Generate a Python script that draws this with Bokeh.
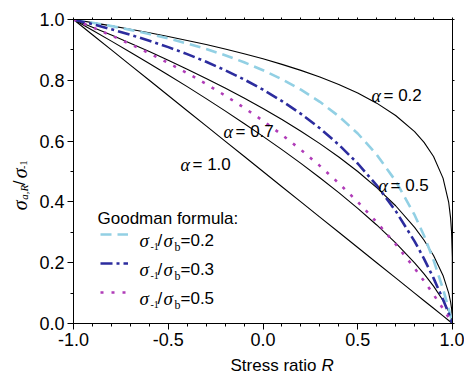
from math import pi
from bokeh.plotting import figure
from bokeh.layouts import row, column
from bokeh.models import (Range1d, FixedTicker, LinearAxis, Label, Legend,
                          LegendItem, NumeralTickFormatter, CustomJSTickFormatter)
from bokeh.embed import file_html
from bokeh.resources import INLINE

# ---------------- data ----------------
R = [-1.0, -0.9, -0.8, -0.7, -0.6, -0.5, -0.4, -0.3, -0.2, -0.1, 0.0, 0.1, 0.2,
     0.3, 0.4, 0.5, 0.6, 0.7, 0.8, 0.85, 0.9, 0.95, 0.98, 0.99, 0.995, 0.999, 1.0]

alpha_02 = [1.0, 0.9898, 0.9791, 0.9680, 0.9564, 0.9441, 0.9312, 0.9175, 0.9029,
            0.8873, 0.8706, 0.8524, 0.8326, 0.8106, 0.7860, 0.7579, 0.7248, 0.6843,
            0.6310, 0.5957, 0.5493, 0.4782, 0.3981, 0.3466, 0.3017, 0.2187, 0.0]
alpha_05 = [1.0, 0.9747, 0.9487, 0.9220, 0.8944, 0.8660, 0.8367, 0.8062, 0.7746,
            0.7416, 0.7071, 0.6708, 0.6325, 0.5916, 0.5477, 0.5000, 0.4472, 0.3873,
            0.3162, 0.2739, 0.2236, 0.1581, 0.1000, 0.0707, 0.0500, 0.0224, 0.0]
alpha_07 = [1.0, 0.9647, 0.9289, 0.8925, 0.8554, 0.8176, 0.7791, 0.7397, 0.6994,
            0.6580, 0.6156, 0.5718, 0.5266, 0.4796, 0.4305, 0.3789, 0.3241, 0.2650,
            0.1995, 0.1631, 0.1228, 0.0756, 0.0398, 0.0245, 0.0151, 0.0049, 0.0]
alpha_10 = [1.0, 0.95, 0.9, 0.85, 0.8, 0.75, 0.7, 0.65, 0.6, 0.55, 0.5, 0.45, 0.4,
            0.35, 0.3, 0.25, 0.2, 0.15, 0.1, 0.075, 0.05, 0.025, 0.01, 0.005,
            0.0025, 0.0005, 0.0]

goodman_02 = [1.0, 0.9896, 0.9783, 0.9659, 0.9524, 0.9375, 0.9211, 0.9028, 0.8824,
              0.8594, 0.8333, 0.8036, 0.7692, 0.7292, 0.6818, 0.6250, 0.5556, 0.4688,
              0.3571, 0.2885, 0.2083, 0.1136, 0.0481, 0.0245, 0.0124, 0.0025, 0.0]
goodman_03 = [1.0, 0.9845, 0.9677, 0.9497, 0.9302, 0.9091, 0.8861, 0.8609, 0.8333,
              0.8029, 0.7692, 0.7317, 0.6897, 0.6422, 0.5882, 0.5263, 0.4545, 0.3704,
              0.2703, 0.2128, 0.1493, 0.0787, 0.0326, 0.0165, 0.0083, 0.0017, 0.0]
goodman_05 = [1.0, 0.9744, 0.9474, 0.9189, 0.8889, 0.8571, 0.8235, 0.7879, 0.7500,
              0.7097, 0.6667, 0.6207, 0.5714, 0.5185, 0.4615, 0.4000, 0.3333, 0.2609,
              0.1818, 0.1395, 0.0952, 0.0488, 0.0198, 0.0100, 0.0050, 0.0010, 0.0]

x_ticks = [-1.0, -0.5, 0.0, 0.5, 1.0]
x_minor = [-0.9, -0.8, -0.7, -0.6, -0.4, -0.3, -0.2, -0.1, 0.1, 0.2, 0.3, 0.4,
           0.6, 0.7, 0.8, 0.9]
x_fine = [-1.0, -0.9, -0.8, -0.7, -0.6, -0.5, -0.4, -0.3, -0.2, -0.1, 0.0, 0.1,
          0.2, 0.3, 0.4, 0.5, 0.6, 0.7, 0.8, 0.9, 1.0]
y_ticks = [0.0, 0.2, 0.4, 0.6, 0.8, 1.0]
y_minor = [0.1, 0.3, 0.5, 0.7, 0.9]
y_fine = [0.0, 0.1, 0.2, 0.3, 0.4, 0.5, 0.6, 0.7, 0.8, 0.9, 1.0]

# ---------------- layout (pixels) ----------------
W, H = 464, 374
YW = 30                      # strip holding the rotated y-axis title
XH = 20                      # strip holding the x-axis title
PW, PH = W - YW, H - XH      # main figure size
FL, FR, FT, FB = 73, 12, 19, 51          # frame borders in the whole picture
FW, FH = W - FL - FR, H - FT - FB

def X(px):
    return -1.0 + (px - FL) * 2.0 / FW

def Y(py):
    return (H - FB - py) / FH

SANS = "Liberation Sans"
SERIF = "Liberation Serif"

p = figure(width=PW, height=PH, x_range=Range1d(-1, 1), y_range=Range1d(0, 1),
           output_backend="svg", toolbar_location=None,
           min_border_left=FL - YW, min_border_right=FR, min_border_top=FT,
           min_border_bottom=PH - (H - FB))
p.xgrid.visible = False
p.ygrid.visible = False
p.outline_line_color = "black"
p.outline_line_width = 1
p.background_fill_color = "white"
p.border_fill_color = "white"

for ax, ticks, minor in ((p.xaxis[0], x_ticks, x_minor), (p.yaxis[0], y_ticks, y_minor)):
    ax.ticker = FixedTicker(ticks=ticks, minor_ticks=minor)
    ax.formatter = NumeralTickFormatter(format="0.0")
    ax.major_tick_out = 6
    ax.major_tick_in = 0
    ax.minor_tick_out = 3
    ax.minor_tick_in = 0
    ax.axis_line_color = "black"
    ax.major_tick_line_color = "black"
    ax.minor_tick_line_color = "black"
    ax.major_label_text_font = SANS
    ax.major_label_text_font_size = "18px"
    ax.major_label_text_color = "black"
    ax.major_label_standoff = 3

blank = CustomJSTickFormatter(code="return ''")
right = LinearAxis(ticker=FixedTicker(ticks=y_fine, minor_ticks=[]), formatter=blank)
top = LinearAxis(ticker=FixedTicker(ticks=x_fine, minor_ticks=[]), formatter=blank)
for ax in (right, top):
    ax.major_tick_out = 2
    ax.major_tick_in = 0
    ax.minor_tick_out = 0
    ax.major_label_standoff = 0
    ax.major_label_text_font_size = "1px"
    ax.axis_line_color = "black"
    ax.major_tick_line_color = "black"
p.add_layout(right, "right")
p.add_layout(top, "above")

# ---------------- curves ----------------
for ys in (alpha_10, alpha_07, alpha_05, alpha_02):
    p.line(R, ys, line_color="black", line_width=1.1)

c02, c03, c05 = "#92d0e4", "#2c2c9e", "#b03cb8"
r02 = p.line(R, goodman_02, line_color=c02, line_width=2.6, line_dash="11 6")
r03 = p.line(R, goodman_03, line_color=c03, line_width=2.6, line_dash="12 4 3 4")
r05 = p.line(R, goodman_05, line_color=c05, line_width=2.6, line_dash="3 8")

legend = Legend(items=[LegendItem(label=" ", renderers=[r02]),
                       LegendItem(label=" ", renderers=[r03]),
                       LegendItem(label=" ", renderers=[r05])],
                location=(100 - FL, (H - FB) - 302), padding=0, margin=0,
                spacing=9, glyph_width=28, glyph_height=20, label_height=20,
                label_width=10, label_text_font_size="8px",
                border_line_color=None, background_fill_alpha=0)
p.add_layout(legend)

# ---------------- texts inside the frame ----------------
def lab(fig, x, y, text, size=17, font=SANS, style="normal", angle=0):
    fig.add_layout(Label(x=x, y=y, text=text, text_font=font,
                         text_font_size=f"{size}px", text_font_style=style,
                         text_color="black", angle=angle, text_align="left",
                         text_baseline="alphabetic"))

for px, py, txt in ((371, 95, "= 0.2"), (223, 131, "= 0.7"),
                    (378, 185, "= 0.5"), (180, 164, "= 1.0")):
    lab(p, X(px), Y(py), "\u03b1", size=18, font=SERIF, style="italic")
    lab(p, X(px + 12), Y(py), txt)

lab(p, X(97), Y(218), "Goodman formula:")
for base, txt in ((240, "=0.2"), (269, "=0.3"), (298, "=0.5")):
    lab(p, X(139), Y(base), "\u03c3", size=19, font=SERIF, style="italic")
    lab(p, X(150), Y(base + 6), "-1", size=10, font=SERIF)
    lab(p, X(157), Y(base), "/")
    lab(p, X(163), Y(base), "\u03c3", size=19, font=SERIF, style="italic")
    lab(p, X(174), Y(base + 6), "b", size=12, font=SERIF)
    lab(p, X(180), Y(base), txt)

# ---------------- y-axis title strip (data units = pixels from top-left) ----------------
yfig = figure(width=YW, height=PH, x_range=Range1d(0, YW), y_range=Range1d(PH, 0),
              output_backend="svg", toolbar_location=None, min_border=0,
              x_axis_type=None, y_axis_type=None)
yfig.outline_line_color = None
yfig.background_fill_color = "white"
yfig.border_fill_color = "white"
yb = 222
lab(yfig, 19, yb, "\u03c3", size=20, font=SERIF, style="italic", angle=pi / 2)
lab(yfig, 23, yb - 12, "a,R", size=11, font=SERIF, style="italic", angle=pi / 2)
lab(yfig, 19, yb - 29, "/", angle=pi / 2)
lab(yfig, 19, yb - 37, "\u03c3", size=20, font=SERIF, style="italic", angle=pi / 2)
lab(yfig, 23, yb - 48, "-1", size=10, font=SERIF, angle=pi / 2)

# ---------------- x-axis title strip ----------------
xfig = figure(width=W, height=XH, x_range=Range1d(0, W), y_range=Range1d(XH, 0),
              output_backend="svg", toolbar_location=None, min_border=0,
              x_axis_type=None, y_axis_type=None)
xfig.outline_line_color = None
xfig.background_fill_color = "white"
xfig.border_fill_color = "white"
lab(xfig, 230, 365 - PH, "Stress ratio")
lab(xfig, 321, 365 - PH, "R", style="italic")

layout = column(row(yfig, p, spacing=0), xfig, spacing=0)
open("out.html", "w").write(file_html(layout, INLINE))
